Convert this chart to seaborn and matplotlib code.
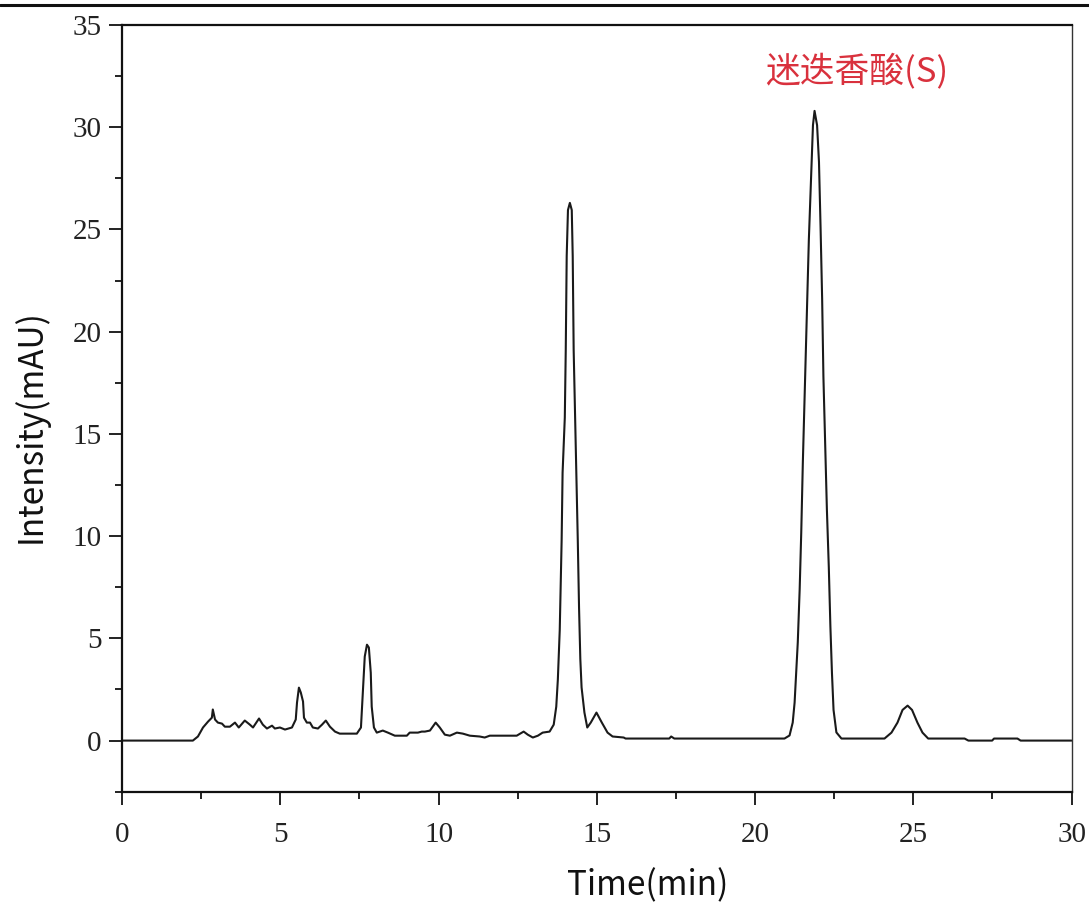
import matplotlib
matplotlib.use("Agg")
import matplotlib.pyplot as plt
from matplotlib.lines import Line2D
from matplotlib.ticker import MultipleLocator
import seaborn as sns
import pandas as pd

time_min = [0.0, 1.0, 2.24, 2.40, 2.56, 2.72, 2.84, 2.87, 2.94, 3.03, 3.16, 3.25, 3.41, 3.57,
            3.69, 3.88, 4.04, 4.14, 4.33, 4.45, 4.58, 4.74, 4.83, 4.99, 5.15, 5.37, 5.49,
            5.53, 5.59, 5.65, 5.72, 5.75, 5.84, 5.94, 6.03, 6.19, 6.32, 6.44, 6.57, 6.73,
            6.88, 7.42, 7.55, 7.61, 7.67, 7.74, 7.80, 7.86, 7.89, 7.96, 8.05, 8.24, 8.40,
            8.62, 9.00, 9.09, 9.35, 9.47, 9.57, 9.73, 9.91, 10.04, 10.20, 10.36, 10.58,
            10.77, 10.99, 11.30, 11.46, 11.62, 12.47, 12.69, 12.82, 12.98, 13.14, 13.29,
            13.51, 13.64, 13.72, 13.77, 13.83, 13.89, 13.92, 13.99, 14.02, 14.05, 14.09,
            14.15, 14.21, 14.24, 14.27, 14.34, 14.40, 14.44, 14.48, 14.52, 14.61, 14.70,
            14.81, 14.99, 15.16, 15.34, 15.50, 15.85, 15.91, 17.29, 17.35, 17.45, 20.93,
            21.09, 21.19, 21.25, 21.30, 21.35, 21.41, 21.46, 21.51, 21.57, 21.64, 21.70,
            21.78, 21.83, 21.88, 21.96, 22.02, 22.07, 22.12, 22.16, 22.22, 22.27, 22.33,
            22.38, 22.43, 22.48, 22.57, 22.73, 24.09, 24.31, 24.50, 24.66, 24.82, 24.96,
            25.13, 25.29, 25.47, 26.62, 26.74, 27.49, 27.55, 28.29, 28.39, 30.0]
intensity = [0.0, 0.0, 0.0, 0.20, 0.64, 0.93, 1.12, 1.52, 1.03, 0.88, 0.83, 0.68, 0.68, 0.88,
             0.64, 0.98, 0.78, 0.64, 1.08, 0.78, 0.59, 0.73, 0.59, 0.64, 0.54, 0.64, 1.03,
             1.86, 2.59, 2.35, 1.91, 1.12, 0.88, 0.88, 0.64, 0.59, 0.78, 0.98, 0.68, 0.44,
             0.34, 0.34, 0.64, 2.35, 4.11, 4.69, 4.55, 3.32, 1.66, 0.64, 0.39, 0.49, 0.39,
             0.24, 0.24, 0.39, 0.39, 0.44, 0.44, 0.49, 0.88, 0.64, 0.29, 0.24, 0.39,
             0.34, 0.24, 0.20, 0.15, 0.24, 0.24, 0.44, 0.29, 0.15, 0.24, 0.39,
             0.44, 0.78, 1.66, 2.98, 5.4, 9.8, 13.1, 15.8, 19.1, 23.7, 25.95,
             26.3, 25.95, 23.7, 19.1, 14.2, 9.8, 6.5, 4.0, 2.6, 1.37, 0.64,
             0.88, 1.37, 0.88, 0.39, 0.20, 0.15, 0.10, 0.10, 0.20, 0.10, 0.10,
             0.25, 0.88, 1.86, 3.3, 4.8, 7.4, 10.2, 13.6, 17.0, 21.1, 24.5,
             27.9, 30.1, 30.8, 30.1, 28.3, 25.1, 21.6, 17.8, 14.2, 11.3, 8.5,
             5.6, 3.3, 1.5, 0.4, 0.10, 0.10, 0.39, 0.88, 1.5, 1.71, 1.5,
             0.88, 0.39, 0.10, 0.10, 0.0, 0.0, 0.10, 0.10, 0.0, 0.0]

x_ticks = [0, 5, 10, 15, 20, 25, 30]
y_ticks = [0, 5, 10, 15, 20, 25, 30, 35]
peak_label = "迷迭香酸(S)"
peak_label_pos = (23.2, 32.75)

sns.set_theme(style="ticks")
plt.rcParams['font.family'] = ['Noto Sans CJK SC', 'DejaVu Sans']

df = pd.DataFrame({"Time": time_min, "Intensity": intensity})

fig = plt.figure(figsize=(10.89, 9.10), dpi=100)
ax = fig.add_axes([0.112, 0.130, 0.872, 0.8425])
sns.lineplot(data=df, x="Time", y="Intensity", ax=ax, color="#1a1a1a",
             linewidth=1.5, estimator=None)

ax.set_xlim(0, 30)
ax.set_ylim(-2.5, 35)
ax.set_xticks(x_ticks)
ax.set_yticks(y_ticks)
ax.xaxis.set_minor_locator(MultipleLocator(2.5))
ax.yaxis.set_minor_locator(MultipleLocator(2.5))
ax.tick_params(which='major', direction='out', length=9.5, width=1.3, colors='#111111')
ax.tick_params(which='minor', direction='out', length=5, width=1.3, colors='#111111')
for lab in ax.get_xticklabels() + ax.get_yticklabels():
    lab.set_family('Liberation Serif')
    lab.set_fontsize(21)
    lab.set_color('#222222')
ax.tick_params(axis='x', pad=12)
ax.tick_params(axis='y', pad=5)

for side in ['left', 'bottom', 'top']:
    ax.spines[side].set_visible(True)
    ax.spines[side].set_linewidth(1.6)
    ax.spines[side].set_color('#111111')
ax.spines['right'].set_visible(True)
ax.spines['right'].set_linewidth(1.0)
ax.spines['right'].set_color('#333333')

ax.set_xlabel("Time(min)", fontsize=24, color='#111111', fontweight='light')
ax.set_ylabel("Intensity(mAU)", fontsize=24, color='#111111', fontweight='light')
ax.xaxis.set_label_coords(0.554, -0.100)
ax.yaxis.set_label_coords(-0.077, 0.477)

ax.text(peak_label_pos[0], peak_label_pos[1], peak_label, color='#d9313d',
        fontsize=25, ha='center', va='center', fontweight='light')

fig.add_artist(Line2D([0, 1], [0.9945, 0.9945], transform=fig.transFigure,
                      color='#111111', linewidth=2.2))

fig.savefig("out.png", dpi=100)
